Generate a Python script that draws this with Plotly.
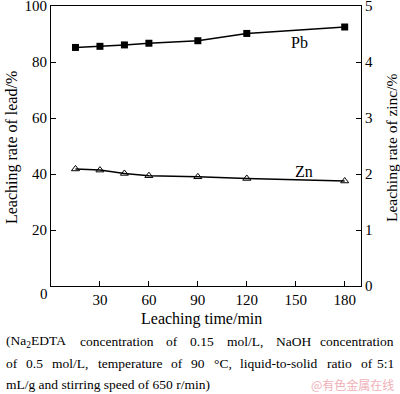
import re
import plotly.graph_objects as go

time_min = [15, 30, 45, 60, 90, 120, 180]
pb_rate = [85.2, 85.6, 86.1, 86.7, 87.6, 90.2, 92.5]
zn_rate = [2.09, 2.07, 2.01, 1.97, 1.95, 1.92, 1.875]
x_ticks = [30, 60, 90, 120, 150, 180]
y_ticks = [20, 40, 60, 80, 100]
y2_ticks = [0, 1, 2, 3, 4, 5]
caption = [
    "(Na<sub>2</sub>EDTA concentration of 0.15 mol/L, NaOH concentration",
    "of 0.5 mol/L, temperature of 90 °C, liquid-to-solid ratio of 5:1",
    "mL/g and stirring speed of 650 r/min)",
]

FONT = "Liberation Serif"
L, R, T, B = 51, 361, 6, 286
W, H = 400, 394
CAP_SIZE = 13.5
TICK_SIZE = 15

# Times-Roman advance widths (per 1000 em), used to justify the caption lines
TW = {' ': 250, '(': 333, ')': 333, ',': 250, '-': 333, '.': 250, '/': 278, ':': 278,
      'A': 722, 'C': 667, 'D': 722, 'E': 611, 'H': 722, 'L': 611, 'N': 722, 'O': 722,
      'T': 611, 'a': 444, 'b': 500, 'c': 444, 'd': 500, 'e': 444, 'f': 333, 'g': 500,
      'h': 500, 'i': 278, 'l': 278, 'm': 778, 'n': 500, 'o': 500, 'p': 500, 'q': 500,
      'r': 333, 's': 389, 't': 278, 'u': 500, 'v': 500, 'w': 722, 'x': 500, 'y': 500,
      'z': 444, '°': 400}
for d in "0123456789":
    TW[d] = 500


def text_width(word, size):
    total = 0.0
    for m in re.finditer(r"<sub>(.*?)</sub>|([^<]+)", word):
        if m.group(1) is not None:
            total += 0.7 * sum(TW.get(c, 500) for c in m.group(1))
        else:
            total += sum(TW.get(c, 500) for c in m.group(2))
    return total * size / 1000.0


def px(xx):
    return (xx - L) / (R - L)


def py(yy):
    return (B - yy) / (B - T)


fig = go.Figure()
fig.add_trace(go.Scatter(x=time_min, y=pb_rate, mode="lines+markers",
                         line=dict(color="black", width=1.5),
                         marker=dict(symbol="square", size=7, color="black"),
                         showlegend=False))
fig.add_trace(go.Scatter(x=time_min, y=zn_rate, mode="lines+markers", yaxis="y2",
                         line=dict(color="black", width=1.5),
                         marker=dict(symbol="triangle-up-open", size=7, color="black",
                                     line=dict(width=1)),
                         showlegend=False))

axis_common = dict(showline=True, linecolor="black", linewidth=1, ticks="inside",
                   ticklen=5, tickcolor="black", showgrid=False, zeroline=False,
                   ticklabeloverflow="allow", automargin=False,
                   tickfont=dict(family=FONT, size=TICK_SIZE, color="black"))

fig.update_layout(
    width=W, height=H,
    margin=dict(l=L, r=W - R, t=T, b=H - B, autoexpand=False),
    paper_bgcolor="white", plot_bgcolor="white",
    font=dict(family=FONT, color="black"),
    xaxis=dict(range=[0, 190], tickvals=x_ticks, mirror=True, **axis_common),
    yaxis=dict(range=[0, 100], tickvals=y_ticks, mirror=False, **axis_common),
    yaxis2=dict(range=[0, 5], tickvals=y2_ticks, overlaying="y", side="right", **axis_common),
)

ann = [
    dict(x=152.5, y=86.8, xref="x", yref="y", text="Pb", showarrow=False,
         font=dict(family=FONT, size=16)),
    dict(x=155, y=41, xref="x", yref="y", text="Zn", showarrow=False,
         font=dict(family=FONT, size=16)),
    dict(x=0, y=0, xref="x", yref="y", text="0", showarrow=False, xanchor="right",
         yanchor="top", xshift=-1, yshift=2, font=dict(family=FONT, size=TICK_SIZE)),
    dict(x=px(201), y=py(319), xref="paper", yref="paper", text="Leaching time/min",
         showarrow=False, xanchor="center", yanchor="middle", font=dict(family=FONT, size=16)),
    dict(x=px(12), y=py(148), xref="paper", yref="paper", text="Leaching rate of lead/%",
         showarrow=False, textangle=-90, xanchor="center", yanchor="middle",
         font=dict(family=FONT, size=16)),
    dict(x=px(391), y=py(148), xref="paper", yref="paper", text="Leaching rate of zinc/%",
         showarrow=False, textangle=-90, xanchor="center", yanchor="middle",
         font=dict(family=FONT, size=15.5)),
]

cap_y = [341, 363, 384]
x0, x1 = 4, 396
for i, (t, yy) in enumerate(zip(caption, cap_y)):
    if i < 2:
        words = t.split(" ")
        widths = [text_width(w, CAP_SIZE) for w in words]
        gap = (x1 - x0 - sum(widths)) / (len(words) - 1)
        xx = x0
        for j, (w, wd) in enumerate(zip(words, widths)):
            last = j == len(words) - 1
            ann.append(dict(x=px(x1 if last else xx), y=py(yy), xref="paper", yref="paper",
                            xanchor="right" if last else "left", yanchor="middle",
                            text=w, showarrow=False,
                            font=dict(family=FONT, size=CAP_SIZE)))
            xx += wd + gap
    else:
        ann.append(dict(x=px(x0), y=py(yy), xref="paper", yref="paper",
                        xanchor="left", yanchor="middle", text=t, showarrow=False,
                        font=dict(family=FONT, size=CAP_SIZE)))
ann.append(dict(x=px(396), y=py(384), xref="paper", yref="paper",
                xanchor="right", yanchor="middle", text="@有色金属在线", showarrow=False,
                font=dict(family="Noto Sans CJK SC", size=12, color="#f0b0b8")))
fig.update_layout(annotations=ann)

fig.write_html("out.html", config={"displayModeBar": False},
               post_script="document.body.style.margin='0';document.body.style.overflow='hidden';")
